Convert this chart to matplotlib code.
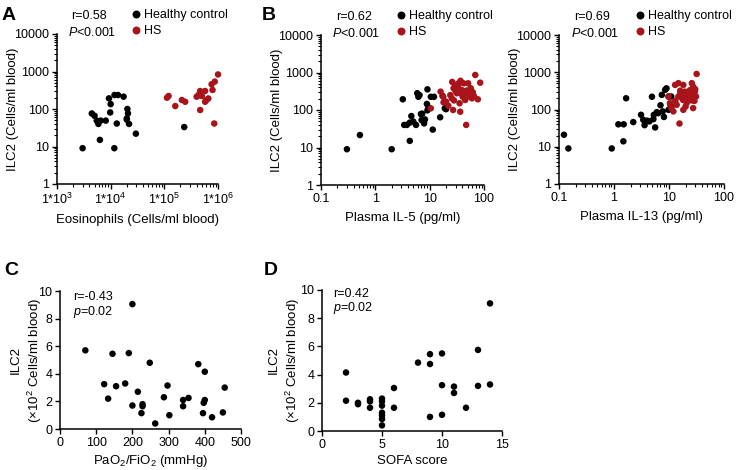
import matplotlib
matplotlib.use("Agg")
import matplotlib.pyplot as plt
from matplotlib.ticker import LogLocator, NullFormatter, FixedLocator, FixedFormatter
from matplotlib.lines import Line2D

plt.rcParams['font.family'] = ['Liberation Sans', 'DejaVu Sans']
plt.rcParams['mathtext.fontset'] = 'custom'
plt.rcParams['mathtext.rm'] = 'Liberation Sans'
plt.rcParams['mathtext.it'] = 'Liberation Sans:italic'
plt.rcParams['mathtext.default'] = 'regular'

BLACK = '#000000'
RED = '#A8141A'

# panel A: eosinophils vs ILC2
hc_eos = [3000, 4450, 5000, 5500, 5900, 6500, 8100, 6300, 9300, 10000, 9800, 11800, 13700,
          17400, 13000, 11700, 20500, 21000, 20000, 20000, 22000, 29500, 235000]
hc_ilc2_eos = [9, 76, 66, 49, 40, 49, 49, 15, 192, 135, 81, 236, 236,
               213, 41, 9, 100, 76, 56, 52, 40, 22, 33]
hs_eos = [112000, 120000, 160000, 212000, 245000, 400000, 455000, 465000, 500000, 465000,
          575000, 575000, 610000, 660000, 760000, 790000, 870000, 1000000, 850000, 430000]
hs_ilc2_eos = [200, 222, 120, 174, 156, 213, 263, 302, 222, 94,
               302, 156, 174, 191, 457, 322, 537, 835, 41, 230]

# panel B: plasma IL-5 vs ILC2
hc_il5 = [0.30, 0.52, 2.0, 3.2, 3.4, 4.3, 4.3, 4.6, 5.6, 5.9, 6.2, 6.5, 6.9, 7.3, 7.9,
          8.2, 8.9, 9.1, 9.1, 9.5, 10.5, 11.4, 12, 15.6, 17.3, 20, 3.8, 5.0, 7.1, 19]
hc_ilc2_il5 = [9, 21.5, 9, 193, 40, 15, 46, 69, 40, 280, 225, 250, 78, 80, 44,
               56, 145, 355, 98, 117, 225, 30, 225, 64, 236, 105, 40, 49, 54, 111]
hs_il5 = [15.9, 17.8, 10.5, 20, 25.5, 27, 27.5, 29.5, 31.6, 34, 35.5, 36.5, 39, 40.6, 43,
          45, 42, 47, 51, 54, 57, 60, 65, 69, 77, 85, 22, 24, 30, 33, 37, 48, 52, 28,
          38, 62, 18, 26]
hs_ilc2_il5 = [309, 225, 111, 167, 205, 100, 380, 465, 280, 515, 151, 90, 340, 225, 280,
               185, 515, 40, 515, 280, 380, 205, 240, 860, 193, 535, 130, 250, 320, 420,
               600, 330, 230, 180, 270, 300, 160, 560]

# panel B (right): plasma IL-13 vs ILC2
hc_il13 = [0.123, 0.148, 0.91, 1.2, 1.5, 1.48, 1.66, 2.24, 3.1, 3.4, 3.6, 4.4, 4.9, 5.2,
           5.3, 5.6, 6.4, 7.4, 7.7, 8.1, 8.5, 9.0, 9.8, 9.8, 11, 11, 7.0, 6.0, 4.0, 10.5]
hc_ilc2_il13 = [21, 9, 9, 40, 40, 14, 200, 46, 72, 53, 38, 48, 220, 55,
                72, 33, 80, 247, 89, 63, 337, 370, 223, 98, 223, 117, 130, 85, 50, 140]
hs_il13 = [12.9, 14.8, 18.2, 19.5, 26, 27.5, 31.8, 29.5, 31, 29, 26, 21, 17, 14.8, 13.8,
           10.4, 9.8, 12, 18.2, 20, 27.5, 15.5, 22, 24, 16, 20, 25, 30, 28, 23, 18, 13,
           11, 21, 24, 28, 16, 19]
hs_ilc2_il13 = [457, 510, 457, 302, 510, 410, 900, 302, 223, 170, 175, 190, 210, 223, 134,
                148, 223, 89, 98, 120, 109, 42, 260, 330, 280, 200, 240, 350, 260, 300,
                180, 170, 110, 150, 220, 190, 320, 250]

# panel C: PaO2/FiO2 vs ILC2 (x10^2)
pf_ratio = [70, 145, 122, 133, 155, 180, 190, 200, 200, 215, 228, 228, 225, 248, 263,
            287, 297, 302, 340, 340, 355, 382, 400, 400, 397, 395, 420, 450, 455]
ilc2_pf = [5.7, 5.45, 3.25, 2.2, 3.1, 3.3, 5.5, 9.05, 1.7, 2.7, 1.8, 1.65, 1.15, 4.8, 0.4,
           2.3, 3.15, 1.0, 2.1, 1.65, 2.25, 4.7, 4.15, 2.1, 1.9, 1.15, 0.85, 1.2, 3.0]

# panel D: SOFA score vs ILC2 (x10^2)
sofa = [2, 2, 3, 3, 4, 4, 4, 5, 5, 5, 5, 5, 5, 5, 6, 6, 8, 9, 9, 9, 10, 10, 10,
        11, 11, 12, 13, 13, 14, 14]
ilc2_sofa = [4.15, 2.15, 2.0, 1.9, 2.25, 2.1, 1.65, 2.3, 2.1, 1.8, 1.3, 1.1, 0.85, 0.4,
             3.05, 1.65, 4.85, 5.45, 4.75, 1.0, 5.5, 3.25, 1.15, 3.15, 2.7, 1.65, 5.75,
             3.2, 9.05, 3.3]

eos_ticks = [1e3, 1e4, 1e5, 1e6]
eos_ticklabels = ['1*10$^{3}$', '1*10$^{4}$', '1*10$^{5}$', '1*10$^{6}$']
log_ticks = [0.1, 1, 10, 100]
log_ticklabels = ['0.1', '1', '10', '100']
ilc2_ticks = [1, 10, 100, 1000, 10000]
ilc2_ticklabels = ['1', '10', '100', '1000', '10000']

FS = 9
LFS = 9.5
MS = 22

W, H = 736, 470


def px_axes(l, t, r, b):
    return fig.add_axes([l / W, (H - b) / H, (r - l) / W, (b - t) / H])


def style(ax):
    for s in ['top', 'right']:
        ax.spines[s].set_visible(False)
    for s in ['left', 'bottom']:
        ax.spines[s].set_linewidth(1.1)
    ax.tick_params(which='major', direction='out', length=3.5, width=1.0, labelsize=FS, pad=2)
    ax.tick_params(which='minor', direction='out', length=2, width=0.8)


def log_panel(ax, hx, hy, sx, sy, xlim, xticks, xlabels, xlabel, r_txt):
    ax.scatter(hx, hy, s=MS, color=BLACK, edgecolor='none', clip_on=False, zorder=3)
    ax.scatter(sx, sy, s=MS, color=RED, edgecolor='none', clip_on=False, zorder=3)
    ax.set_xscale('log')
    ax.set_yscale('log')
    ax.set_xlim(*xlim)
    ax.set_ylim(1, 10000)
    ax.xaxis.set_major_locator(FixedLocator(xticks))
    ax.xaxis.set_major_formatter(FixedFormatter(xlabels))
    ax.xaxis.set_minor_locator(LogLocator(base=10, subs=range(2, 10), numticks=20))
    ax.xaxis.set_minor_formatter(NullFormatter())
    ax.yaxis.set_major_locator(FixedLocator(ilc2_ticks))
    ax.yaxis.set_major_formatter(FixedFormatter(ilc2_ticklabels))
    ax.yaxis.set_minor_locator(LogLocator(base=10, subs=range(2, 10), numticks=20))
    ax.yaxis.set_minor_formatter(NullFormatter())
    style(ax)
    ax.set_xlabel(xlabel, fontsize=LFS, labelpad=5)
    ax.set_ylabel('ILC2 (Cells/ml blood)', fontsize=LFS, labelpad=-3)
    ax.text(0.09, 1.12, r_txt, transform=ax.transAxes, fontsize=FS, va='center', ha='left')
    ax.text(0.07, 1.01, '$\\mathit{P}$<0.001', transform=ax.transAxes, fontsize=FS,
            va='center', ha='left')
    handles = [Line2D([], [], marker='o', ls='none', color=BLACK, markersize=4.7),
               Line2D([], [], marker='o', ls='none', color=RED, markersize=4.7)]
    ax.legend(handles, ['Healthy control', 'HS'], loc='upper left',
              bbox_to_anchor=(0.45, 1.165), frameon=False, fontsize=FS,
              handletextpad=0.15, labelspacing=0.3, borderpad=0, borderaxespad=0,
              handlelength=1.0)


fig = plt.figure(figsize=(W / 100, H / 100), dpi=100)

axA = px_axes(57, 34, 218, 184)
log_panel(axA, hc_eos, hc_ilc2_eos, hs_eos, hs_ilc2_eos, (1e3, 1e6), eos_ticks,
          eos_ticklabels, 'Eosinophils (Cells/ml blood)', 'r=0.58')

axB = px_axes(321, 35, 484, 185)
log_panel(axB, hc_il5, hc_ilc2_il5, hs_il5, hs_ilc2_il5, (0.1, 100), log_ticks,
          log_ticklabels, 'Plasma IL-5 (pg/ml)', 'r=0.62')

axB2 = px_axes(559, 35, 724, 184)
log_panel(axB2, hc_il13, hc_ilc2_il13, hs_il13, hs_ilc2_il13, (0.1, 100), log_ticks,
          log_ticklabels, 'Plasma IL-13 (pg/ml)', 'r=0.69')

axC = px_axes(60, 291, 241, 429)
axC.scatter(pf_ratio, ilc2_pf, s=MS, color=BLACK, edgecolor='none', clip_on=False, zorder=3)
axC.set_xlim(0, 500)
axC.set_ylim(0, 10)
axC.set_xticks([0, 100, 200, 300, 400, 500])
axC.set_yticks([0, 2, 4, 6, 8, 10])
style(axC)
axC.set_xlabel('PaO$_2$/FiO$_2$ (mmHg)', fontsize=LFS, labelpad=3)
axC.set_ylabel('ILC2\n(\u00d710$^2$ Cells/ml blood)', fontsize=LFS, labelpad=-4, linespacing=1.3)
axC.text(0.07, 0.96, 'r=-0.43', transform=axC.transAxes, fontsize=FS, va='center')
axC.text(0.07, 0.85, '$\\mathit{p}$=0.02', transform=axC.transAxes, fontsize=FS, va='center')

axD = px_axes(322, 290, 502, 431)
axD.scatter(sofa, ilc2_sofa, s=MS, color=BLACK, edgecolor='none', clip_on=False, zorder=3)
axD.set_xlim(0, 15)
axD.set_ylim(0, 10)
axD.set_xticks([0, 5, 10, 15])
axD.set_yticks([0, 2, 4, 6, 8, 10])
style(axD)
axD.set_xlabel('SOFA score', fontsize=LFS, labelpad=3)
axD.set_ylabel('ILC2\n(\u00d710$^2$ Cells/ml blood)', fontsize=LFS, labelpad=-1, linespacing=1.3)
axD.text(0.06, 0.97, 'r=0.42', transform=axD.transAxes, fontsize=FS, va='center')
axD.text(0.06, 0.87, '$\\mathit{p}$=0.02', transform=axD.transAxes, fontsize=FS, va='center')

for letter, x, y in [('A', 2, 7), ('B', 262, 7), ('C', 4, 262), ('D', 264, 262)]:
    fig.text(x / W, 1 - y / H, letter, fontsize=14, fontweight='bold', va='top', ha='left')

fig.savefig('out.png', dpi=100)
